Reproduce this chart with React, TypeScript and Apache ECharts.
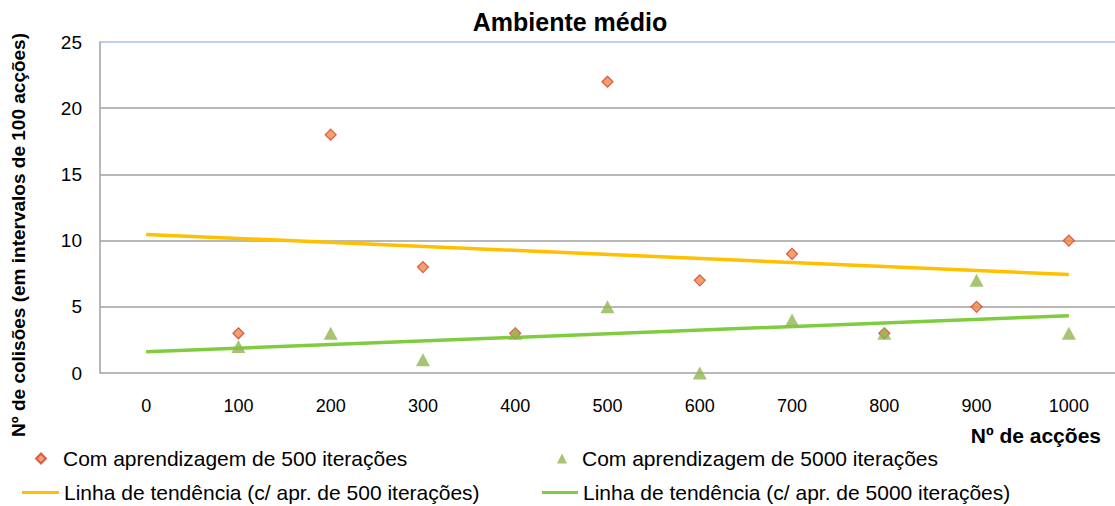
import React, { useEffect, useRef } from "react";
import * as echarts from "echarts";

const categories = ["0", "100", "200", "300", "400", "500", "600", "700", "800", "900", "1000"];
const learn500 = ["-", 3, 18, 8, 3, 22, 7, 9, 3, 5, 10];
const learn5000 = ["-", 2, 3, 1, 3, 5, 0, 4, 3, 7, 3];
const trend500: [string, number][] = [["0", 10.47], ["1000", 7.44]];
const trend5000: [string, number][] = [["0", 1.6], ["1000", 4.33]];
const yTicks = { min: 0, max: 25, interval: 5 };

const title = "Ambiente médio";
const yName = "Nº de colisões (em intervalos de 100 acções)";
const xName = "Nº de acções";
const names = [
  "Com aprendizagem de 500 iterações",
  "Com aprendizagem de 5000 iterações",
  "Linha de tendência (c/ apr. de 500 iterações)",
  "Linha de tendência (c/ apr. de 5000 iterações)",
];

const FONT = "Liberation Sans, Arial, Helvetica, sans-serif";

export default function App() {
  const ref = useRef<HTMLDivElement>(null);
  useEffect(() => {
    document.body.style.margin = "0";
    const chart = echarts.init(ref.current!, null, { renderer: "svg" });
    const legendText = (pad: number) => ({
      fontFamily: FONT,
      fontSize: 21,
      color: "#000",
      padding: [0, 0, 0, pad],
    });
    chart.setOption({
      animation: false,
      backgroundColor: "#fff",
      textStyle: { fontFamily: FONT },
      grid: { left: 100, right: 0, top: 42, bottom: 133 },
      xAxis: {
        type: "category",
        data: categories,
        boundaryGap: true,
        axisLine: { show: false },
        axisTick: { show: false },
        axisLabel: { margin: 24, fontSize: 18, color: "#000", fontFamily: FONT },
        splitLine: { show: false },
      },
      yAxis: {
        type: "value",
        min: yTicks.min,
        max: yTicks.max,
        interval: yTicks.interval,
        axisLine: { show: true, lineStyle: { color: "#a0a0a0", width: 1.5 } },
        axisTick: { show: false },
        axisLabel: { margin: 18, fontSize: 19, color: "#000", fontFamily: FONT },
        splitLine: {
          show: true,
          lineStyle: {
            color: ["#a0a0a0", "#a0a0a0", "#a0a0a0", "#a0a0a0", "#a0a0a0", "#a8c0e6"],
            width: 1.5,
          },
        },
      },
      graphic: [
        {
          type: "text",
          x: 570,
          y: 22,
          style: {
            text: title,
            fontFamily: FONT,
            fontSize: 25,
            fontWeight: "bold",
            fill: "#000",
            align: "center",
            verticalAlign: "middle",
          },
        },
        {
          type: "text",
          x: 18,
          y: 235,
          rotation: Math.PI / 2,
          style: {
            text: yName,
            fontFamily: FONT,
            fontSize: 19,
            fontWeight: "bold",
            fill: "#000",
            align: "center",
            verticalAlign: "middle",
          },
        },
        {
          type: "text",
          x: 1101,
          y: 435,
          style: {
            text: xName,
            fontFamily: FONT,
            fontSize: 21,
            fontWeight: "bold",
            fill: "#000",
            align: "right",
            verticalAlign: "middle",
          },
        },
      ],
      legend: [
        {
          left: 35,
          top: 448,
          padding: 0,
          data: [{ name: names[0], icon: "diamond" }],
          itemWidth: 10,
          itemHeight: 10,
          textStyle: legendText(12),
        },
        {
          left: 557,
          top: 448,
          padding: 0,
          data: [{ name: names[1], icon: "triangle" }],
          itemWidth: 10,
          itemHeight: 10,
          textStyle: legendText(10),
        },
        {
          left: 22,
          top: 482,
          padding: 0,
          data: [{ name: names[2], icon: "rect" }],
          itemWidth: 37,
          itemHeight: 3,
          textStyle: legendText(0),
        },
        {
          left: 542,
          top: 482,
          padding: 0,
          data: [{ name: names[3], icon: "rect" }],
          itemWidth: 36,
          itemHeight: 3,
          textStyle: legendText(0),
        },
      ],
      series: [
        {
          name: names[2],
          type: "line",
          data: trend500,
          symbol: "none",
          lineStyle: { color: "#ffc000", width: 3.5 },
          itemStyle: { color: "#ffc000" },
          z: 2,
        },
        {
          name: names[3],
          type: "line",
          data: trend5000,
          symbol: "none",
          lineStyle: { color: "#80cc40", width: 3.5 },
          itemStyle: { color: "#80cc40" },
          z: 2,
        },
        {
          name: names[0],
          type: "scatter",
          data: learn500,
          symbol: "diamond",
          symbolSize: 11,
          itemStyle: { color: "#f08848", borderColor: "#d04030", borderWidth: 1.2 },
          z: 3,
        },
        {
          name: names[1],
          type: "scatter",
          data: learn5000,
          symbol: "triangle",
          symbolSize: [14, 13],
          itemStyle: { color: "#8fb650" },
          z: 4,
        },
      ],
    });
    return () => chart.dispose();
  }, []);
  return (
    <div
      ref={ref}
      style={{ position: "absolute", left: 0, top: 0, width: 1115, height: 506 }}
    />
  );
}
